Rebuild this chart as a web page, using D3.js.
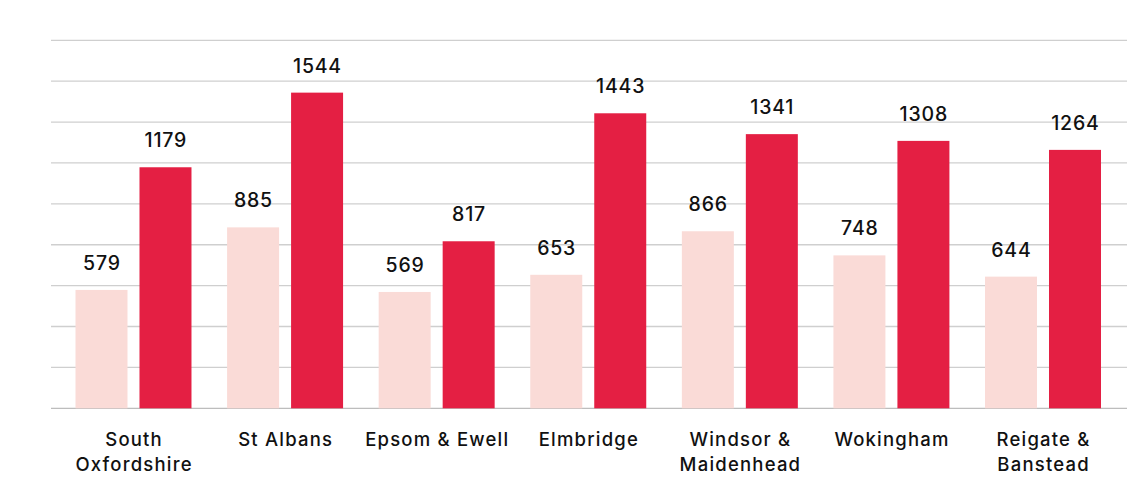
<!DOCTYPE html>
<html>
<head>
<meta charset="utf-8">
<script src="https://cdn.jsdelivr.net/npm/d3@7/dist/d3.min.js"></script>
<style>
  html, body { margin: 0; padding: 0; background: #fff; }
  svg { display: block; }
  text { font-family: Inter, "Open Sans", sans-serif; fill: #111; }
</style>
</head>
<body>
<svg id="chart" width="1129" height="490"></svg>
<script>
// Districts and the two series of values
const categories = ["South Oxfordshire", "St Albans", "Epsom & Ewell", "Elmbridge",
                    "Windsor & Maidenhead", "Wokingham", "Reigate & Banstead"];
const labelLines = [["South", "Oxfordshire"], ["St Albans"], ["Epsom & Ewell"], ["Elmbridge"],
                    ["Windsor &", "Maidenhead"], ["Wokingham"], ["Reigate &", "Banstead"]];
const seriesA = [579, 885, 569, 653, 866, 748, 644];
const seriesB = [1179, 1544, 817, 1443, 1341, 1308, 1264];
const gridTicks = [0, 200, 400, 600, 800, 1000, 1200, 1400, 1600, 1800];

const colors = ["#FADBD7", "#E41F43"];

const svg = d3.select("#chart");
const gridLeft = 51, gridRight = 1127;
const y = d3.scaleLinear().domain([0, 1800]).range([408.3, 40.3]);

const x0 = d3.scaleBand().domain(categories).range([57.7, 1118.8]).padding(0);
const x1 = d3.scaleBand().domain([0, 1])
  .range([17.8, x0.bandwidth() - 17.8]).paddingInner(0.1875).paddingOuter(0);

// Horizontal gridlines
svg.append("g").selectAll("line").data(gridTicks).join("line")
  .attr("x1", gridLeft).attr("x2", gridRight)
  .attr("y1", d => y(d)).attr("y2", d => y(d))
  .attr("stroke", d => d === 0 ? "#bdbdbd" : "#cfcfcf")
  .attr("stroke-width", 1.3);

const rows = categories.map((c, i) => ({ c, vals: [seriesA[i], seriesB[i]] }));

const groups = svg.append("g").selectAll("g").data(rows).join("g")
  .attr("transform", d => `translate(${x0(d.c)},0)`);

groups.selectAll("rect").data(d => d.vals.map((v, k) => ({ v, k }))).join("rect")
  .attr("x", d => x1(d.k))
  .attr("width", x1.bandwidth())
  .attr("y", d => y(d.v))
  .attr("height", d => y(0) - y(d.v))
  .attr("fill", d => colors[d.k]);

const valSpacing = 0.8, catSpacing = 1.2;

groups.selectAll("text.val").data(d => d.vals.map((v, k) => ({ v, k }))).join("text")
  .attr("class", "val")
  .attr("x", d => x1(d.k) + x1.bandwidth() / 2 + valSpacing / 2)
  .attr("y", d => y(d.v) - 20)
  .attr("text-anchor", "middle")
  .attr("font-size", 19.5)
  .attr("font-weight", 500)
  .attr("letter-spacing", valSpacing)
  .text(d => d.v);

// Category labels below the baseline
groups.append("text")
  .attr("class", "cat")
  .attr("y", 446)
  .attr("text-anchor", "middle")
  .attr("font-size", 18.5)
  .attr("font-weight", 500)
  .attr("letter-spacing", catSpacing)
  .selectAll("tspan").data((d, i) => labelLines[i]).join("tspan")
  .attr("x", x0.bandwidth() / 2 + catSpacing / 2)
  .attr("dy", (d, j) => j === 0 ? 0 : 24.5)
  .text(d => d);
</script>
</body>
</html>
